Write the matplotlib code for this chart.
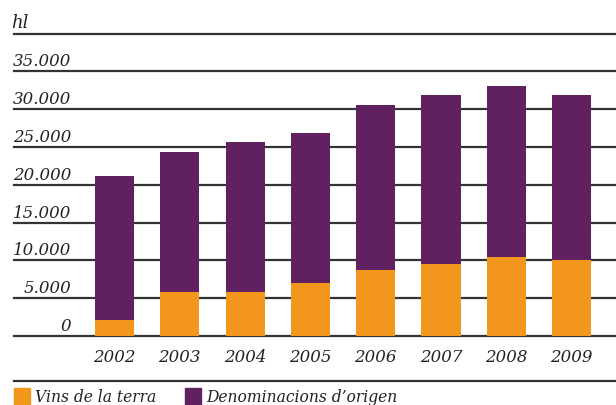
import matplotlib
matplotlib.use("Agg")
import matplotlib.pyplot as plt
import matplotlib.transforms as mtransforms
from matplotlib.patches import Rectangle
from matplotlib.lines import Line2D

years = ["2002", "2003", "2004", "2005", "2006", "2007", "2008", "2009"]
vins_terra = [2100, 5800, 5800, 7000, 8700, 9500, 10400, 10000]
denominacions = [19000, 18470, 19900, 19900, 21900, 22400, 22600, 21900]
y_ticks = [0, 5000, 10000, 15000, 20000, 25000, 30000, 35000]
y_tick_labels = ["0", "5.000", "10.000", "15.000", "20.000", "25.000", "30.000", "35.000"]
unit_label = "hl"
legend_labels = ["Vins de la terra", "Denominacions d\u2019origen"]

orange = "#F2971C"
purple = "#612060"
line_col = "#333333"
fs = 12

plt.rcParams["font.family"] = ["DejaVu Serif"]
plt.rcParams["font.style"] = "italic"

W, H = 616, 405
fig = plt.figure(figsize=(W / 100, H / 100), dpi=100)
ax = fig.add_axes([14 / W, 1 - 336 / H, 602 / W, (336 - 33.5) / H])

x = list(range(len(years)))
ax.bar(x, vins_terra, width=0.6, color=orange, zorder=3)
ax.bar(x, denominacions, width=0.6, bottom=vins_terra, color=purple, zorder=3)

ax.set_xlim(-1.539, 7.68)
ax.set_ylim(0, 40000)

for v in y_ticks + [40000]:
    ax.axhline(v, color=line_col, lw=1.6, zorder=2, clip_on=False)

lab_trans = mtransforms.offset_copy(
    mtransforms.blended_transform_factory(ax.transAxes, ax.transData),
    fig=fig, y=5, units="dots")
for v, s in zip(y_ticks, y_tick_labels):
    ax.text(57 / 602, v, s, transform=lab_trans, ha="right", va="baseline",
            fontsize=fs, color="#222222")
ax.text(-3 / 602, 40000, unit_label, transform=lab_trans, ha="left",
        va="baseline", fontsize=fs + 1, color="#222222")

ax.set_xticks(x)
ax.set_xticklabels(years, fontsize=fs, color="#222222")
ax.tick_params(axis="x", length=0, pad=9)
ax.set_yticks([])
for sp in ax.spines.values():
    sp.set_visible(False)

# legend
fig.add_artist(Line2D([14 / W, 1], [1 - 381 / H] * 2, color=line_col, lw=1.6,
                      transform=fig.transFigure))
for xp, col, lab in [(14, orange, legend_labels[0]), (185, purple, legend_labels[1])]:
    fig.add_artist(Rectangle((xp / W, 0), 16 / W, 17 / H, color=col,
                             transform=fig.transFigure))
    fig.text((xp + 21) / W, 1 - 397 / H, lab, ha="left", va="center",
             fontsize=11.2, color="#222222")

fig.savefig("out.png", dpi=100)
